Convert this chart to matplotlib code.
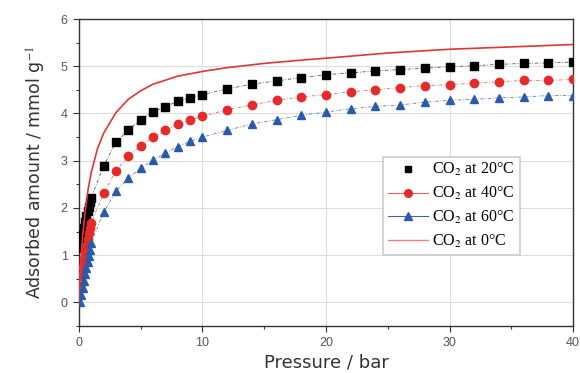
import matplotlib
matplotlib.use("Agg")
import matplotlib.pyplot as plt
from matplotlib.ticker import MultipleLocator

# ---- data ----
p_low = [0.1, 0.2, 0.3, 0.4, 0.5, 0.6, 0.7, 0.8, 0.9]
p_high = [1, 2, 3, 4, 5, 6, 7, 8, 9, 10, 12, 14, 16, 18, 20, 22, 24, 26, 28, 30, 32, 34, 36, 38, 40]

y20_low = [1.15, 1.3, 1.45, 1.58, 1.7, 1.82, 1.93, 2.03, 2.12]
y20_high = [2.22, 2.89, 3.39, 3.65, 3.87, 4.04, 4.14, 4.26, 4.33, 4.40, 4.52, 4.62, 4.69, 4.76,
            4.82, 4.86, 4.90, 4.93, 4.96, 4.99, 5.01, 5.04, 5.06, 5.07, 5.09]

y40_low = [0.35, 0.55, 0.75, 0.92, 1.07, 1.2, 1.34, 1.46, 1.58]
y40_high = [1.69, 2.31, 2.79, 3.09, 3.32, 3.50, 3.64, 3.77, 3.87, 3.94, 4.08, 4.18, 4.28, 4.35,
            4.40, 4.46, 4.50, 4.55, 4.59, 4.61, 4.64, 4.67, 4.70, 4.70, 4.72]

y60_low = [0.0, 0.15, 0.3, 0.45, 0.6, 0.73, 0.86, 0.98, 1.1]
y60_high = [1.26, 1.91, 2.35, 2.63, 2.84, 3.01, 3.16, 3.30, 3.41, 3.50, 3.64, 3.78, 3.87, 3.96,
            4.03, 4.10, 4.15, 4.18, 4.24, 4.28, 4.30, 4.33, 4.35, 4.38, 4.38]

p0 = [0.0, 0.1, 0.2, 0.3, 0.5, 0.75, 1.0, 1.5, 2.0, 3.0, 4.0, 5.0, 6.0, 8.0, 10.0, 12.0, 15.0,
      18.0, 20.0, 25.0, 30.0, 35.0, 40.0]
y0 = [0.0, 0.6, 1.05, 1.4, 1.9, 2.4, 2.75, 3.25, 3.58, 4.02, 4.3, 4.48, 4.62, 4.79, 4.89,
      4.97, 5.06, 5.13, 5.17, 5.28, 5.36, 5.41, 5.46]

labels = ["CO$_2$ at 20\u00b0C", "CO$_2$ at 40\u00b0C", "CO$_2$ at 60\u00b0C", "CO$_2$ at 0\u00b0C"]

# ---- plot ----
plt.rcParams['font.family'] = ['Liberation Sans', 'DejaVu Sans']
plt.rcParams['mathtext.fontset'] = 'stix'

fig = plt.figure(figsize=(5.8, 3.73), dpi=100)
ax = fig.add_axes([0.136, 0.126, 0.852, 0.823])

black = '#000000'
red = '#e62a2a'
blue = '#2a5aa8'

ax.plot(p_low + p_high, y20_low + y20_high, linestyle=(0, (4, 2, 1, 2)), color='#555555', lw=0.6,
        marker='s', ms=5.5, mfc=black, mec=black, zorder=3)
ax.plot(p_low + p_high, y40_low + y40_high, linestyle=(0, (4, 2, 1, 2)), color='#e07070', lw=0.6,
        marker='o', ms=6, mfc=red, mec=red, zorder=3)
ax.plot(p_low + p_high, y60_low + y60_high, linestyle=(0, (4, 2, 1, 2)), color='#6080b0', lw=0.6,
        marker='^', ms=6, mfc=blue, mec=blue, zorder=3)
ax.plot(p0, y0, color='#e03535', lw=1.2, zorder=4)

# legend proxies
h1, = ax.plot([], [], linestyle='none', marker='s', ms=4.5, color=black)
h2, = ax.plot([], [], color='#e06060', lw=0.8, marker='o', ms=5.5, mfc=red, mec=red)
h3, = ax.plot([], [], color='#4060a0', lw=0.8, marker='^', ms=5.5, mfc=blue, mec=blue)
h4, = ax.plot([], [], color='#f08080', lw=1.0)
leg = ax.legend([h1, h2, h3, h4], labels, loc='upper left', bbox_to_anchor=(0.615, 0.552),
                prop={'family': ['Liberation Serif'], 'size': 11.5}, frameon=True,
                fancybox=False, edgecolor='#cccccc', handlelength=2.5, handletextpad=0.3,
                labelspacing=0.42, borderpad=0.3, borderaxespad=0, framealpha=1)
leg.get_frame().set_linewidth(1.2)

ax.set_xlim(0, 40)
ax.set_ylim(-0.5, 6)
ax.xaxis.set_major_locator(MultipleLocator(10))
ax.xaxis.set_minor_locator(MultipleLocator(5))
ax.yaxis.set_major_locator(MultipleLocator(1))
ax.yaxis.set_minor_locator(MultipleLocator(0.5))
ax.grid(True, which='major', color='#dddddd', lw=0.8, zorder=0)
ax.set_axisbelow(True)

ax.tick_params(which='both', direction='out', colors='#333333', labelcolor='#555555',
               labelsize=9, width=0.8)
ax.tick_params(which='major', length=4, pad=4)
ax.tick_params(which='minor', length=2.5)
for s in ax.spines.values():
    s.set_color('#333333')
    s.set_linewidth(1.0)

ax.set_xlabel('Pressure / bar', fontsize=13, color='#333333', labelpad=3,
              family=['DejaVu Sans'])
ax.set_ylabel('Adsorbed amount / mmol g$^{-1}$', fontsize=12.5, color='#333333', labelpad=9,
              family=['DejaVu Sans'])

fig.savefig('out.png', dpi=100)
